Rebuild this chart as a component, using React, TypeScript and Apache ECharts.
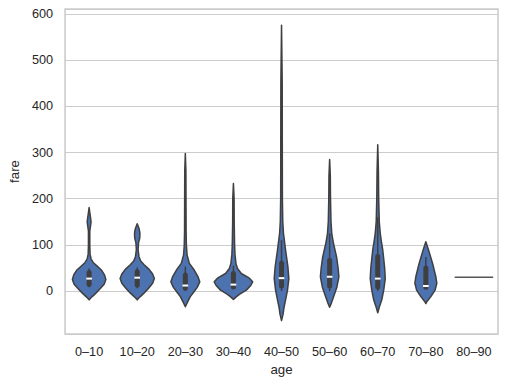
import React, { useEffect, useRef } from "react";
import * as echarts from "echarts";

// Categories (age bins)
const categories = ["0–10", "10–20", "20–30", "30–40", "40–50", "50–60", "60–70", "70–80", "80–90"];

// Violin profiles: [fare, relative density (widest violin = 1)]
const violin0to10 = [[-19, 0], [-12, 0.16], [-5, 0.34], [5, 0.57], [15, 0.78], [25, 0.87], [35, 0.8], [45, 0.65], [55, 0.39], [62, 0.21], [70, 0.1], [80, 0.05], [100, 0.035], [130, 0.035], [140, 0.07], [150, 0.1], [160, 0.07], [170, 0.035], [181, 0]];
const violin10to20 = [[-19, 0], [-12, 0.16], [-5, 0.34], [5, 0.57], [17, 0.8], [27, 0.89], [37, 0.8], [47, 0.62], [57, 0.36], [65, 0.18], [75, 0.09], [90, 0.045], [105, 0.07], [115, 0.13], [125, 0.14], [135, 0.1], [146, 0]];
const violin20to30 = [[-34, 0], [-25, 0.1], [-12, 0.26], [-2, 0.44], [8, 0.62], [20, 0.75], [32, 0.65], [45, 0.47], [60, 0.21], [78, 0.09], [100, 0.055], [130, 0.04], [200, 0.035], [260, 0.03], [298, 0]];
const violin30to40 = [[-18, 0], [-12, 0.16], [-7, 0.31], [2, 0.67], [12, 0.9], [20, 1], [28, 0.83], [38, 0.41], [49, 0.21], [60, 0.13], [80, 0.08], [100, 0.06], [150, 0.04], [200, 0.035], [233, 0]];
const violin40to50 = [[-64, 0], [-50, 0.08], [-35, 0.13], [-19, 0.21], [2, 0.31], [27, 0.38], [53, 0.33], [89, 0.21], [125, 0.1], [150, 0.065], [200, 0.045], [300, 0.04], [450, 0.035], [576, 0]];
const violin50to60 = [[-35, 0], [-25, 0.1], [-12, 0.21], [9, 0.38], [31, 0.48], [50, 0.44], [74, 0.36], [103, 0.2], [125, 0.11], [150, 0.07], [200, 0.045], [250, 0.035], [285, 0]];
const violin60to70 = [[-47, 0], [-35, 0.08], [-19, 0.21], [2, 0.31], [27, 0.39], [50, 0.36], [70, 0.31], [89, 0.26], [110, 0.18], [125, 0.13], [150, 0.08], [200, 0.05], [260, 0.035], [317, 0]];
const violin70to80 = [[-27, 0], [-23, 0.05], [-12, 0.26], [2, 0.48], [17, 0.57], [31, 0.52], [60, 0.35], [89, 0.14], [107, 0]];
const violinProfiles = [violin0to10, violin10to20, violin20to30, violin30to40, violin40to50, violin50to60, violin60to70, violin70to80, null];

// Inner box stats: [lower whisker, q1, median, q3, upper whisker]
const boxStats = [
  [8, 15, 27, 40, 49],
  [6, 13, 29, 42, 51],
  [0, 6, 12, 35, 53],
  [5, 9, 14, 38, 55],
  [0, 11, 28, 60, 110],
  [0, 11, 31, 67, 125],
  [0, 9, 27, 75, 160],
  [7, 8, 11, 50, 74],
  null,
];

// Single observation in 80–90
const singleFare80to90 = 30;

// Y axis
const yMin = -93;
const yMax = 611;

const FONT = "'Liberation Sans', Arial, sans-serif";
const TEXT = "#262626";
const GRID = "#cccccc";
const FILL = "#4c72b0";
const EDGE = "#3f3f3f";

export default function App() {
  const ref = useRef<HTMLDivElement>(null);
  useEffect(() => {
    document.body.style.margin = "0";
    const chart = echarts.init(ref.current!, null, { renderer: "svg" });
    const renderItem = (params: any, api: any) => {
      const i = params.dataIndex;
      const center = api.coord([i, 0])[0];
      const band = api.size([1, 0])[0];
      const maxHW = band * 0.4;
      const children: any[] = [];
      const prof = violinProfiles[i];
      if (prof) {
        const right = prof.map(([f, d]) => [center + d * maxHW, api.coord([i, f])[1]]);
        const left = prof.slice().reverse().map(([f, d]) => [center - d * maxHW, api.coord([i, f])[1]]);
        children.push({
          type: "polygon",
          shape: { points: right.concat(left) },
          style: { fill: FILL, stroke: EDGE, lineWidth: 1.5, lineJoin: "round" },
        });
      } else {
        const y = api.coord([i, singleFare80to90])[1];
        children.push({
          type: "line",
          shape: { x1: center - maxHW, y1: y, x2: center + maxHW, y2: y },
          style: { stroke: "#555555", lineWidth: 1.6 },
        });
      }
      const b = boxStats[i];
      if (b) {
        const [wl, q1, med, q3, wh] = b.map((v) => api.coord([i, v])[1]);
        children.push({
          type: "line",
          shape: { x1: center, y1: wl, x2: center, y2: wh },
          style: { stroke: EDGE, lineWidth: 1.5 },
        });
        children.push({
          type: "line",
          shape: { x1: center, y1: q1, x2: center, y2: q3 },
          style: { stroke: EDGE, lineWidth: 5, lineCap: "round" },
        });
        children.push({
          type: "rect",
          shape: { x: center - 2.8, y: med - 1, width: 5.6, height: 2 },
          style: { fill: "#ffffff" },
        });
      }
      return { type: "group", children };
    };
    chart.setOption({
      animation: false,
      grid: {
        left: 62,
        right: 9,
        top: 9,
        bottom: 52,
        show: true,
        borderColor: GRID,
        borderWidth: 1.6,
        backgroundColor: "transparent",
      },
      xAxis: {
        type: "category",
        data: categories,
        boundaryGap: true,
        name: "age",
        nameLocation: "middle",
        nameGap: 26,
        nameTextStyle: { color: TEXT, fontSize: 13.3, fontFamily: FONT },
        axisLine: { show: false },
        axisTick: { show: false },
        splitLine: { show: false },
        axisLabel: { color: TEXT, fontSize: 12.7, fontFamily: FONT, margin: 11 },
      },
      yAxis: {
        type: "value",
        min: yMin,
        max: yMax,
        splitNumber: 7,
        name: "fare",
        nameLocation: "middle",
        nameGap: 40,
        nameTextStyle: { color: TEXT, fontSize: 13.3, fontFamily: FONT },
        axisLine: { show: false },
        axisTick: { show: false },
        splitLine: { show: true, lineStyle: { color: GRID, width: 1 } },
        axisLabel: {
          color: TEXT,
          fontSize: 12.7,
          fontFamily: FONT,
          margin: 12,
          showMinLabel: false,
          showMaxLabel: false,
          formatter: (v: number) => (v % 100 === 0 ? String(v) : ""),
        },
      },
      series: [
        {
          type: "custom",
          renderItem,
          encode: { x: 0, y: 1 },
          data: categories.map((_, i) => [i, boxStats[i] ? boxStats[i]![2] : singleFare80to90]),
          clip: true,
        },
      ],
    });
    return () => chart.dispose();
  }, []);
  return <div ref={ref} style={{ position: "absolute", left: 0, top: 0, width: 507, height: 386 }} />;
}
